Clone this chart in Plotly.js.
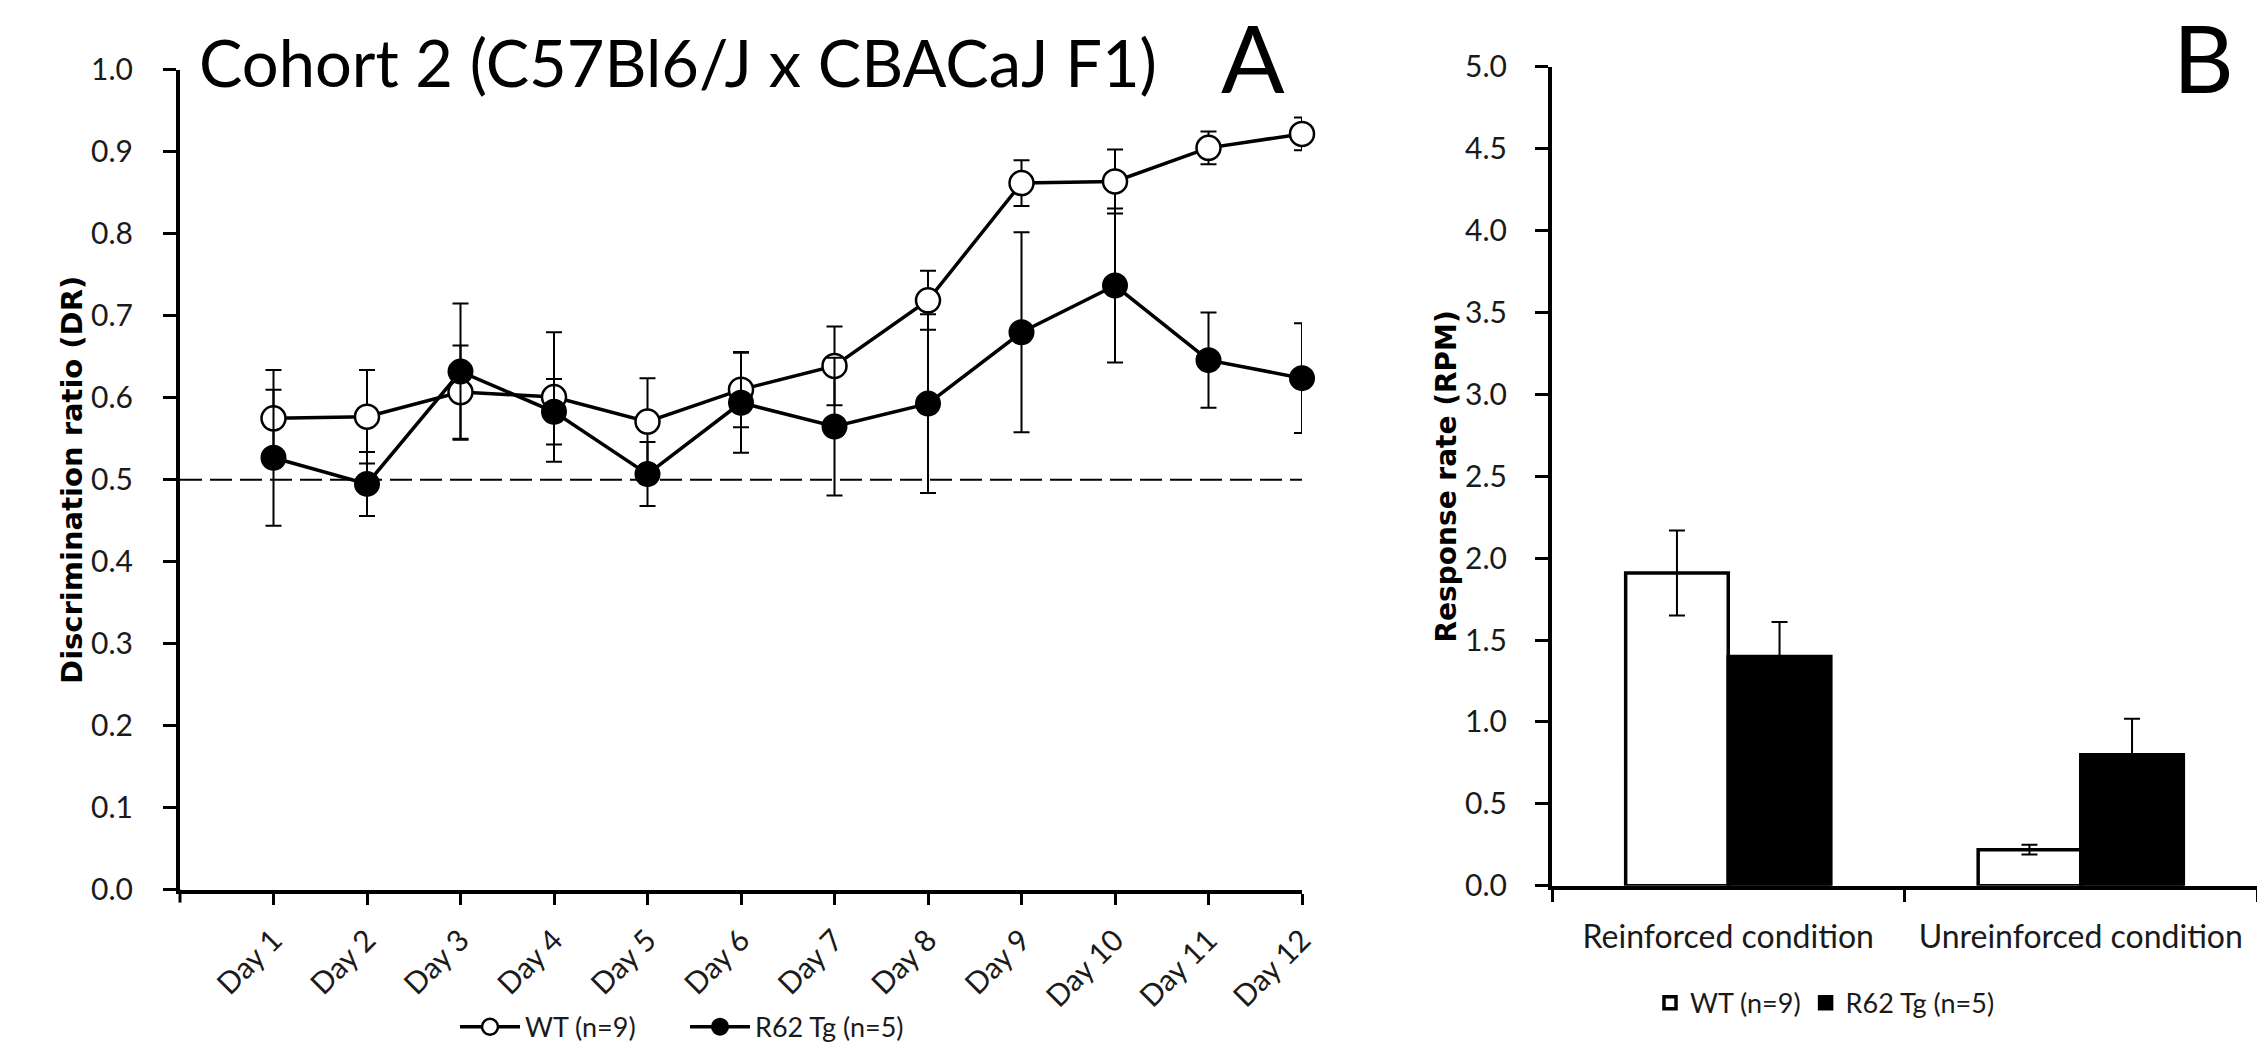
<!DOCTYPE html>
<html>
<head>
<meta charset="utf-8">
<script src="https://cdn.plot.ly/plotly-3.0.1.min.js"></script>
<style>
  html, body { margin: 0; padding: 0; background: #ffffff; }
  #chart { width: 2257px; height: 1052px; }
</style>
</head>
<body>
<div id="chart"></div>
<script>
// ---- Panel A data: discrimination ratio by day ----
const days = ['Day 1', 'Day 2', 'Day 3', 'Day 4', 'Day 5', 'Day 6', 'Day 7', 'Day 8', 'Day 9', 'Day 10', 'Day 11', 'Day 12'];
const wtMean = [0.575, 0.577, 0.607, 0.601, 0.571, 0.610, 0.639, 0.719, 0.862, 0.864, 0.905, 0.922];
const wtSem  = [0.059, 0.057, 0.057, 0.079, 0.053, 0.046, 0.048, 0.036, 0.028, 0.039, 0.020, 0.020];
const tgMean = [0.527, 0.495, 0.632, 0.583, 0.507, 0.594, 0.565, 0.593, 0.680, 0.737, 0.646, 0.624];
const tgSem  = [0.083, 0.039, 0.083, 0.040, 0.039, 0.061, 0.084, 0.109, 0.122, 0.094, 0.058, 0.067];
const chanceLevel = 0.5;

// ---- Panel B data: response rate by condition ----
const conditions = ['Reinforced condition', 'Unreinforced condition'];
const wtRate    = [1.91, 0.22];
const wtRateSem = [0.26, 0.03];
const tgRate    = [1.40, 0.80];
const tgRateSem = [0.21, 0.22];

const wtName = 'WT (n=9)';
const tgName = 'R62 Tg (n=5)';
const mainTitle = 'Cohort 2 (C57Bl6/J x CBACaJ F1)';

// ---- styling ----
const W = 2257, H = 1052;
const CAL = 'Lato';
const BOLDT = 'DejaVu Sans';
const txt = '#1a1a1a';

// pixel geometry -> paper fractions
const axL = 180 / W, axR = 1302 / W;
const ayB = 1 - 896.5 / H, ayT = 1 - 70.5 / H;
const bxL = 1552 / W, bxR = 1;
const byB = 1 - 892.5 / H, byT = 1 - 67.5 / H;

const traces = [
  {
    type: 'scatter', mode: 'lines+markers', name: wtName,
    x: days, y: wtMean, xaxis: 'x', yaxis: 'y', legend: 'legend',
    line: { color: '#000', width: 3.5 },
    marker: { symbol: 'circle', size: 24, color: '#fff', line: { color: '#000', width: 2.5 } },
    error_y: { type: 'data', array: wtSem, visible: true, color: '#000', thickness: 2, width: 8 },
    cliponaxis: false
  },
  {
    type: 'scatter', mode: 'lines+markers', name: tgName,
    x: days, y: tgMean, xaxis: 'x', yaxis: 'y', legend: 'legend',
    line: { color: '#000', width: 3.5 },
    marker: { symbol: 'circle', size: 24, color: '#000', line: { color: '#000', width: 2 } },
    error_y: { type: 'data', array: tgSem, visible: true, color: '#000', thickness: 2, width: 8 },
    cliponaxis: false
  },
  {
    type: 'bar', name: wtName, x: conditions, y: wtRate,
    xaxis: 'x2', yaxis: 'y2', legend: 'legend2',
    marker: { color: '#fff', line: { color: '#000', width: 3.5 } },
    error_y: { type: 'data', array: wtRateSem, visible: true, color: '#000', thickness: 2, width: 8 }
  },
  {
    type: 'bar', name: tgName, x: conditions, y: tgRate,
    xaxis: 'x2', yaxis: 'y2', legend: 'legend2',
    marker: { color: '#000', line: { color: '#000', width: 3.5 } },
    error_y: { type: 'data', array: tgRateSem, visible: true, color: '#000', thickness: 2, width: 8 }
  }
];

const commonAxis = {
  showline: true, linecolor: '#000', linewidth: 4,
  ticks: 'outside', tickcolor: '#000', tickwidth: 3,
  showgrid: false, zeroline: false, fixedrange: true,
  tickfont: { family: CAL, size: 30, color: txt }
};

const layout = {
  width: W, height: H,
  margin: { l: 0, r: 0, t: 0, b: 0, pad: 0 },
  paper_bgcolor: '#fff', plot_bgcolor: '#fff',
  showlegend: true,
  title: {
    text: mainTitle,
    font: { family: CAL, size: 65, color: '#000' },
    x: 678 / W, xanchor: 'center', xref: 'paper',
    y: 1 - 64.5 / H, yanchor: 'middle', yref: 'paper'
  },
  xaxis: Object.assign({}, commonAxis, {
    type: 'category', domain: [axL, axR], range: [-1, 11], anchor: 'y',
    ticklen: 11, tickangle: -45, ticklabelstandoff: 6
  }),
  yaxis: Object.assign({}, commonAxis, {
    domain: [ayB, ayT], range: [0, 1], dtick: 0.1, tick0: 0, tickformat: '.1f', anchor: 'x',
    ticklen: 13, ticklabelstandoff: 24,
    title: { text: 'Discrimination ratio (DR)', font: { family: BOLDT, size: 29, color: '#000', weight: 'bold' } }
  }),
  xaxis2: Object.assign({}, commonAxis, {
    type: 'category', domain: [bxL, bxR], range: [-0.5, 1.5], anchor: 'y2',
    tickson: 'boundaries', ticklen: 12, ticklabelstandoff: 20,
    tickfont: { family: CAL, size: 32, color: txt }
  }),
  yaxis2: Object.assign({}, commonAxis, {
    domain: [byB, byT], range: [0, 5], dtick: 0.5, tick0: 0, tickformat: '.1f', anchor: 'x2',
    ticklen: 13, ticklabelstandoff: 22,
    title: { text: 'Response rate (RPM)', font: { family: BOLDT, size: 28, color: '#000', weight: 'bold' } }
  }),
  barmode: 'group', bargap: 0.418, bargroupgap: 0,
  legend: {
    orientation: 'h', x: 455 / W, y: 1 - 1035 / H, xanchor: 'left', yanchor: 'middle',
    font: { family: CAL, size: 27, color: txt }, bgcolor: 'rgba(0,0,0,0)',
    itemwidth: 60, entrywidth: 155, tracegroupgap: 0, itemclick: false
  },
  legend2: {
    orientation: 'h', x: 1650 / W, y: 1 - 1011 / H, xanchor: 'left', yanchor: 'middle',
    font: { family: CAL, size: 27, color: txt }, bgcolor: 'rgba(0,0,0,0)',
    itemwidth: 30, itemclick: false
  },
  shapes: [
    { type: 'line', xref: 'x domain', x0: 0, x1: 1, yref: 'y', y0: chanceLevel, y1: chanceLevel,
      line: { color: '#000', width: 2, dash: '22px,8px' }, layer: 'below' },
    { type: 'line', xref: 'paper', x0: axL, x1: axL, yref: 'paper', y0: ayB, y1: ayB - 13 / H,
      line: { color: '#000', width: 3 } }
  ],
  annotations: [
    { text: 'A', xref: 'paper', yref: 'paper', x: 1253 / W, y: 1 - 57 / H, xanchor: 'center', yanchor: 'middle',
      showarrow: false, font: { family: CAL, size: 94, color: '#000' } },
    { text: 'B', xref: 'paper', yref: 'paper', x: 2203 / W, y: 1 - 57 / H, xanchor: 'center', yanchor: 'middle',
      showarrow: false, font: { family: CAL, size: 94, color: '#000' } }
  ]
};

Plotly.newPlot('chart', traces, layout, { staticPlot: true, displayModeBar: false });
</script>
</body>
</html>
